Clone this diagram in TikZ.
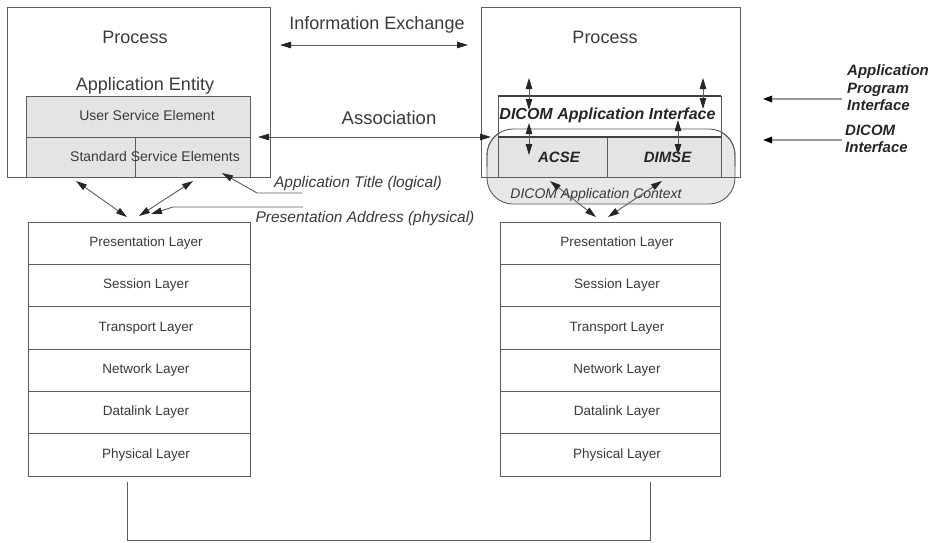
\documentclass[tikz,border=0pt]{standalone}
\usepackage{fontspec}
\setmainfont{Liberation Sans}
\usetikzlibrary{arrows.meta}
\definecolor{ln}{HTML}{5C5C5C}
\definecolor{tx}{HTML}{3A3A3A}
\definecolor{fl}{HTML}{E4E4E4}
\definecolor{ga}{HTML}{9A9A9A}
\begin{document}
\begin{tikzpicture}[x=1pt,y=-1pt,
  box/.style={draw=ln, line width=0.9pt, inner sep=0pt, outer sep=0pt},
  cell/.style={box, fill=fl},
  layer/.style={box, fill=white, minimum height=42.33pt},
  lbl/.style={inner sep=0pt, text=tx},
  big/.style={lbl, font=\fontsize{18}{20}\selectfont},
  mid/.style={lbl, font=\fontsize{14}{16}\selectfont},
  itl/.style={lbl, font=\fontsize{15.5}{18}\selectfont\itshape},
  bit/.style={lbl, text=black!85, font=\fontsize{15}{17.5}\selectfont\bfseries\itshape},
  dbl/.style={draw=ln, line width=0.9pt, {Triangle[length=11pt,width=6.5pt,color=black!85]}-{Triangle[length=11pt,width=6.5pt,color=black!85]}},
  sgl/.style={draw=ln, line width=0.9pt, -{Triangle[length=11pt,width=6.5pt,color=black!85]}},
  gar/.style={draw=ga, line width=1.6pt, -{Triangle[length=9pt,width=6.5pt,color=black]}}]
\useasboundingbox (0,0) rectangle (938,542);

% ---------- left side ----------
\node[box, minimum width=263pt, minimum height=170pt] (procL) at (138.5,92) {};
\node[big] (tProcL) at (135,37) {Process};
\node[big] (tAE) at (145,86) {Application Entity};
\node[cell, minimum width=224pt, minimum height=41pt] (useL) at (138,116.5) {};
\node[cell, minimum width=109pt, minimum height=40pt] (sse1) at (80.5,157) {};
\node[cell, minimum width=115pt, minimum height=40pt] (sse2) at (192.5,157) {};
\node[mid] (tUSE) at (147,115) {User Service Element};
\node[mid] (tSSE) at (155,156) {Standard Service Elements};

\foreach \n/\t [count=\i from 0] in {pL/Presentation Layer, sL/Session Layer, tL/Transport Layer, nL/Network Layer, dL/Datalink Layer, phL/Physical Layer}{
  \node[layer, minimum width=222pt] (\n) at (139,{243.17+42.33*\i}) {};
  \node[mid, font=\fontsize{13.5}{16}\selectfont] (t\n) at (146,{243.17+42.33*\i}) {\t};
}

% ---------- right side ----------
\node[box, fill=fl!85!white, rounded corners=26pt, minimum width=248pt, minimum height=75pt] (ctx) at (611,166.5) {};
\node[box, fill=white, draw=none, minimum width=223pt, minimum height=41pt] (api) at (609.5,116.5) {};
\draw[ln, line width=0.9pt, rounded corners=26pt] (ctx.west) |- (ctx.north) -| (ctx.east);
\draw[ln, line width=0.9pt] (api.north west) -- (api.south west) (api.north east) -- (api.south east);
\draw[black!75, line width=2pt] (api.north west) -- (api.north east);
\node[cell, minimum width=109pt, minimum height=40pt] (acse) at (552.5,157) {};
\node[cell, minimum width=114pt, minimum height=40pt] (dimse) at (664,157) {};
\draw[black!75, line width=2pt] (api.south west) -- (api.south east);
\node[box, minimum width=259pt, minimum height=170pt] (procR) at (610.5,92) {};
\node[big] (tProcR) at (605,37) {Process};
\node[bit, font=\fontsize{16}{18}\selectfont\bfseries\itshape] (tAPI) at (607.5,115) {DICOM Application Interface};
\node[bit] (tACSE) at (559,157) {ACSE};
\node[bit] (tDIMSE) at (667.5,157) {DIMSE};
\node[lbl, font=\fontsize{14}{16}\selectfont\itshape] (tCtx) at (596,195) {DICOM Application Context};

\foreach \n/\t [count=\i from 0] in {pR/Presentation Layer, sR/Session Layer, tR/Transport Layer, nR/Network Layer, dR/Datalink Layer, phR/Physical Layer}{
  \node[layer, minimum width=220pt] (\n) at (610,{243.17+42.33*\i}) {};
  \node[mid, font=\fontsize{13.5}{16}\selectfont] (t\n) at (617,{243.17+42.33*\i}) {\t};
}

% ---------- middle labels ----------
\node[big] (tIE) at (377,25) {Information Exchange};
\node[big, font=\fontsize{18.5}{20}\selectfont] (tAssoc) at (389,118) {Association};
\node[itl] (tAT) at (358,183) {Application Title (logical)};
\node[itl] (tPA) at (365,218) {Presentation Address (physical)};

% ---------- far right labels ----------
\node[bit, anchor=west, align=left, font=\fontsize{15}{17.5}\selectfont\bfseries\itshape] (tAPIlab) at (847,88) {Application\\Program\\Interface};
\node[bit, anchor=west, align=left, font=\fontsize{15}{17.5}\selectfont\bfseries\itshape] (tDIlab) at (845,139) {DICOM\\Interface};

% ---------- coordinates ----------
\coordinate (ieL) at (280,45);   \coordinate (ieR) at (468,45);
\coordinate (asL) at (258,137);  \coordinate (asR) at (491,137);
\coordinate (atT) at (222,173);  \coordinate (atK) at (257,193); \coordinate (atE) at (302,193);
\coordinate (paT) at (151,214);  \coordinate (paK) at (173,207); \coordinate (paE) at (303,207);
\coordinate (la1) at (76,181);   \coordinate (lb1) at (127,217);
\coordinate (la2) at (193,181);  \coordinate (lb2) at (139,216);
\coordinate (ra1) at (550,181);  \coordinate (rb1) at (596,217);
\coordinate (ra2) at (662,181);  \coordinate (rb2) at (608,217);
\coordinate (v1a) at (529,78);   \coordinate (v1b) at (529,110);
\coordinate (v2a) at (529,123);  \coordinate (v2b) at (529,155);
\coordinate (v3a) at (703,78);   \coordinate (v3b) at (703,109);
\coordinate (v4a) at (678,120);  \coordinate (v4b) at (678,155);
\coordinate (g1a) at (842,99);   \coordinate (g1b) at (763,99);
\coordinate (g2a) at (842,140);  \coordinate (g2b) at (763,140);
\coordinate (b1) at (127,482);   \coordinate (b2) at (127,540);
\coordinate (b3) at (650,540);   \coordinate (b4) at (650,482);

% ---------- connectors ----------
\draw[dbl] (ieL) -- (ieR);
\draw[dbl] (asL) -- (asR);
\draw[sgl] (atE) -- (atK) -- (atT);
\draw[sgl] (paE) -- (paK) -- (paT);
\draw[dbl] (la1) -- (lb1);
\draw[dbl] (la2) -- (lb2);
\draw[dbl] (ra1) -- (rb1);
\draw[dbl] (ra2) -- (rb2);
\draw[dbl] (v1a) -- (v1b);
\draw[dbl] (v2a) -- (v2b);
\draw[dbl] (v3a) -- (v3b);
\draw[dbl] (v4a) -- (v4b);
\draw[gar] (g1a) -- (g1b);
\draw[gar] (g2a) -- (g2b);
\draw[ln, line width=0.9pt] (b1) -- (b2) -- (b3) -- (b4);
\end{tikzpicture}
\end{document}
